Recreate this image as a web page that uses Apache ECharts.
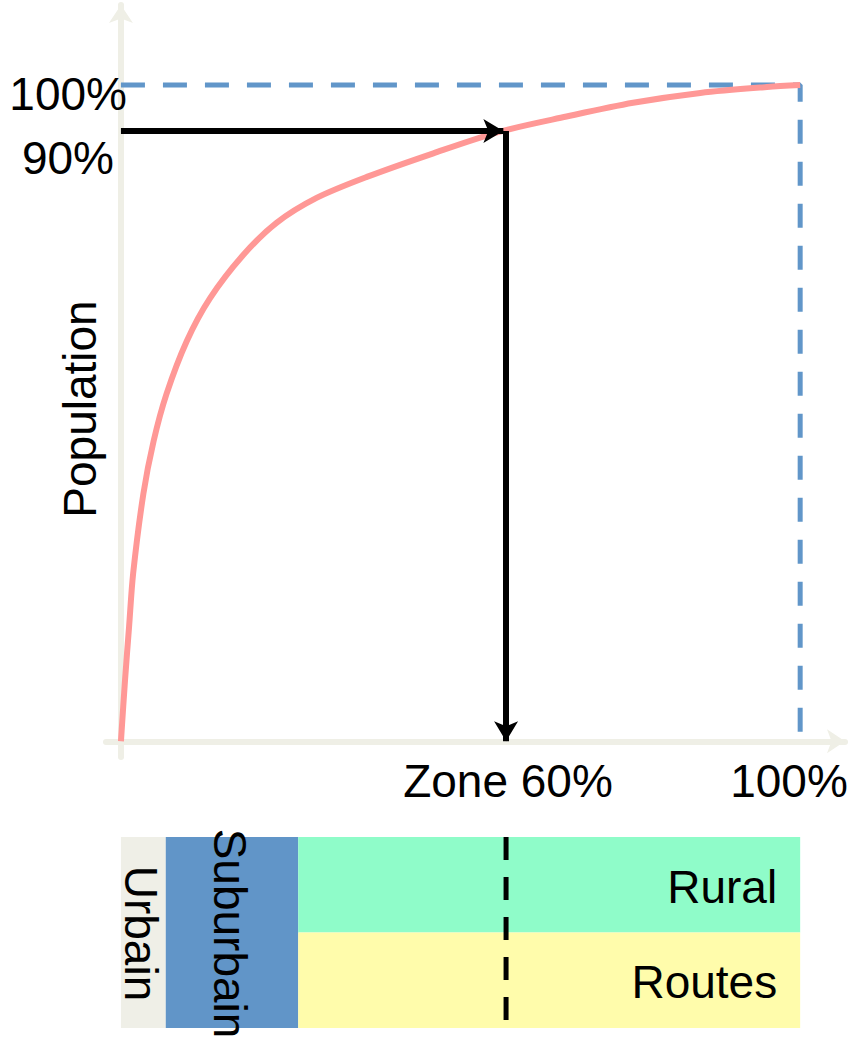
<!DOCTYPE html>
<html>
<head>
<meta charset="utf-8">
<script src="https://cdn.jsdelivr.net/npm/echarts@6/dist/echarts.min.js"></script>
<style>
  html, body { margin: 0; padding: 0; background: #fff; }
  #chart { width: 854px; height: 1038px; }
</style>
</head>
<body>
<div id="chart"></div>
<script>
// cumulative population (%) against share of the zone (%)
const curveX = [0, 0.6, 1.2, 1.8, 3.3, 4.8, 6.7, 9.7, 13.1, 18.0, 22.9, 28.8, 36.2, 46.0, 55.8, 65.6, 75.4, 85.3, 95.1, 100];
const curveY = [0, 9.3, 17.5, 25.6, 37.7, 45.7, 52.9, 61.0, 67.5, 74.1, 79.0, 82.8, 86.0, 89.6, 92.9, 95.2, 97.3, 98.8, 99.7, 100];

// where 90% of the population is reached
const zoneCut = 56.7;
const popCut = 93.0;

// bands under the chart
const zoneNames = ['Urbain', 'Suburbain', 'Rural', 'Routes'];
const zoneStart = [0, 6.6, 26.1, 26.1];
const zoneEnd = [6.6, 26.1, 100, 100];
const zoneLow = [0, 0, 1, 0];
const zoneHigh = [2, 2, 2, 1];
const zoneColors = ['#efefe7', '#6195c8', '#8ffcc9', '#fffcab'];

const font = '"Liberation Sans", Arial, sans-serif';
const axisColor = '#efefe6';

const chart = echarts.init(document.getElementById('chart'), null, { renderer: 'svg' });

const option = {
  animation: false,
  grid: [
    { left: 106, top: 5, width: 739, height: 752 },
    { left: 106, top: 837, width: 739, height: 191 }
  ],
  xAxis: [
    {
      gridIndex: 0, type: 'value', min: -2.2, max: 106.6,
      axisLine: { onZero: true, symbol: ['none', 'arrow'], symbolSize: [18, 18], lineStyle: { color: axisColor, width: 6 } },
      axisTick: { show: false }, axisLabel: { show: false }, splitLine: { show: false }
    },
    { gridIndex: 1, type: 'value', min: -2.2, max: 106.6, show: false }
  ],
  yAxis: [
    {
      gridIndex: 0, type: 'value', min: -2.4, max: 112.2,
      axisLine: { show: true, onZero: true, symbol: ['none', 'arrow'], symbolSize: [18, 18], lineStyle: { color: axisColor, width: 6 } },
      axisTick: { show: false }, axisLabel: { show: false }, splitLine: { show: false }
    },
    { gridIndex: 1, type: 'value', min: 0, max: 2, show: false }
  ],
  series: [
    {
      // dashed frame at 100%
      type: 'line',
      xAxisIndex: 0, yAxisIndex: 0,
      data: [[0, 100], [100, 100], [100, 0]],
      symbol: 'none',
      lineStyle: { color: '#6196c9', width: 5, type: [24, 18] },
      z: 2
    },
    {
      type: 'line',
      xAxisIndex: 0, yAxisIndex: 0,
      data: curveX.map((x, i) => [x, curveY[i]]),
      smooth: 0.3,
      symbol: 'none',
      lineStyle: { color: '#ff9896', width: 6 },
      z: 3,
      markLine: {
        silent: true,
        symbol: ['none', 'arrow'],
        symbolSize: [18, 20],
        label: { show: false },
        lineStyle: { color: '#000', width: 6, type: 'solid' },
        data: [
          [{ coord: [0, popCut] }, { coord: [zoneCut - 0.4, popCut] }],
          [{ coord: [zoneCut, popCut] }, { coord: [zoneCut, 0] }]
        ]
      }
    },
    {
      type: 'custom',
      xAxisIndex: 1, yAxisIndex: 1,
      data: zoneNames.map((n, i) => [zoneStart[i], zoneEnd[i], zoneLow[i], zoneHigh[i]]),
      renderItem: (params, api) => {
        const i = params.dataIndex;
        const p0 = api.coord([api.value(0), api.value(3)]);
        const p1 = api.coord([api.value(1), api.value(2)]);
        const vertical = i < 2;
        return {
          type: 'group',
          children: [
            {
              type: 'rect',
              shape: { x: p0[0], y: p0[1], width: p1[0] - p0[0], height: p1[1] - p0[1] },
              style: { fill: zoneColors[i] }
            },
            {
              type: 'text',
              x: vertical ? (p0[0] + p1[0]) / 2 - 2 : p1[0] - 23,
              y: (p0[1] + p1[1]) / 2 + (vertical ? 1 : 2),
              rotation: vertical ? -Math.PI / 2 : 0,
              style: {
                text: zoneNames[i],
                fill: '#000',
                fontSize: 46,
                fontFamily: font,
                align: vertical ? 'center' : 'right',
                verticalAlign: 'middle'
              },
              z2: 10
            }
          ]
        };
      }
    },
    {
      // dashed cut line through the bands
      type: 'line',
      xAxisIndex: 1, yAxisIndex: 1,
      data: [[zoneCut, 2], [zoneCut, 0]],
      symbol: 'none',
      lineStyle: { color: '#000', width: 5, type: [23, 17] },
      z: 5
    }
  ],
  graphic: [
    { type: 'text', x: 127, y: 94, style: { text: '100%', fontSize: 46, fontFamily: font, fill: '#000', align: 'right', verticalAlign: 'middle' }, z: 20 },
    { type: 'text', x: 114, y: 158, style: { text: '90%', fontSize: 46, fontFamily: font, fill: '#000', align: 'right', verticalAlign: 'middle' }, z: 20 },
    { type: 'text', x: 508, y: 781, style: { text: 'Zone 60%', fontSize: 46, fontFamily: font, fill: '#000', align: 'center', verticalAlign: 'middle' }, z: 20 },
    { type: 'text', x: 789, y: 781, style: { text: '100%', fontSize: 46, fontFamily: font, fill: '#000', align: 'center', verticalAlign: 'middle' }, z: 20 },
    { type: 'text', x: 80, y: 409, rotation: Math.PI / 2, style: { text: 'Population', fontSize: 46, fontFamily: font, fill: '#000', align: 'center', verticalAlign: 'middle' }, z: 20 }
  ]
};

chart.setOption(option);
window.addEventListener('resize', () => chart.resize());
</script>
</body>
</html>
